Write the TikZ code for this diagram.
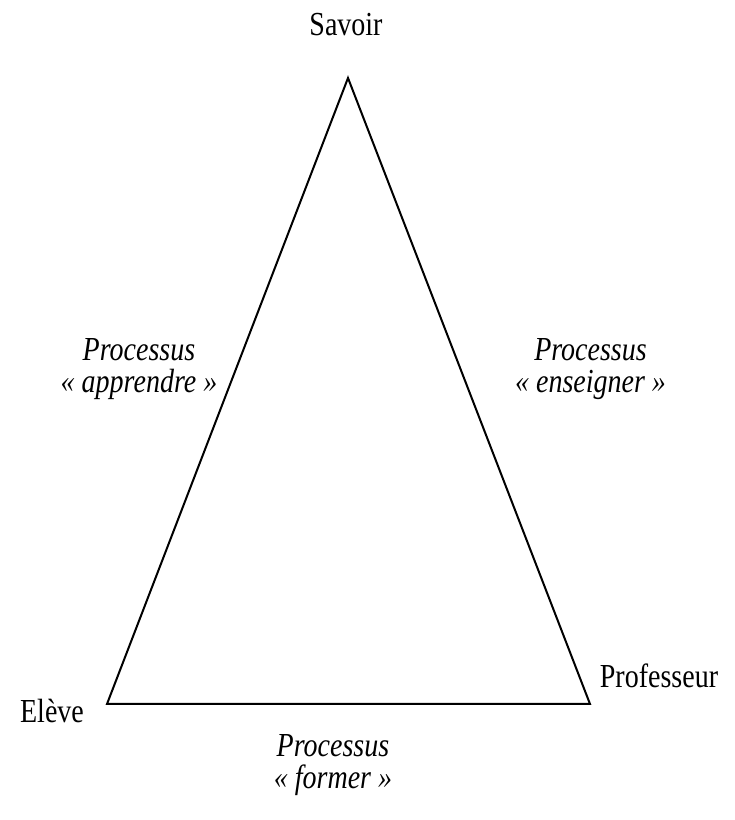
\documentclass[tikz,border=0pt]{standalone}
\usepackage{fontspec}
\setmainfont{Liberation Serif}
\newcommand{\tallt}[1]{\scalebox{1}[1.2]{#1}}
\AtBeginDocument{\lineskiplimit=-20pt\relax}
\begin{document}
\begin{tikzpicture}[x=1pt,y=1pt,
  lbl/.style={inner sep=0pt,font=\fontsize{28}{30}\selectfont},
  ilbl/.style={inner sep=0pt,anchor=north,align=center,
    font=\fontsize{28}{32}\selectfont\itshape},
  edge/.style={draw=black,line width=2pt,line join=miter}]
\useasboundingbox (0,0) rectangle (735,820);
\coordinate (S) at (348,742);
\coordinate (E) at (107,116);
\coordinate (P) at (590,116);
\draw[edge] (S) -- (E) -- (P) -- cycle;
\node[lbl] (savoir) at (346,795) {\tallt{Savoir}};
\node[lbl] (eleve) at (52,109) {\tallt{Elève}};
\node[lbl] (prof) at (659,144) {\tallt{Professeur}};
\node[ilbl] (pl) at (139,482) {\tallt{Processus}\\\tallt{« apprendre »}};
\node[ilbl] (pr) at (590.5,482) {\tallt{Processus}\\\tallt{« enseigner »}};
\node[ilbl] (pb) at (333,86) {\tallt{Processus}\\\tallt{« former »}};
\end{tikzpicture}
\end{document}
